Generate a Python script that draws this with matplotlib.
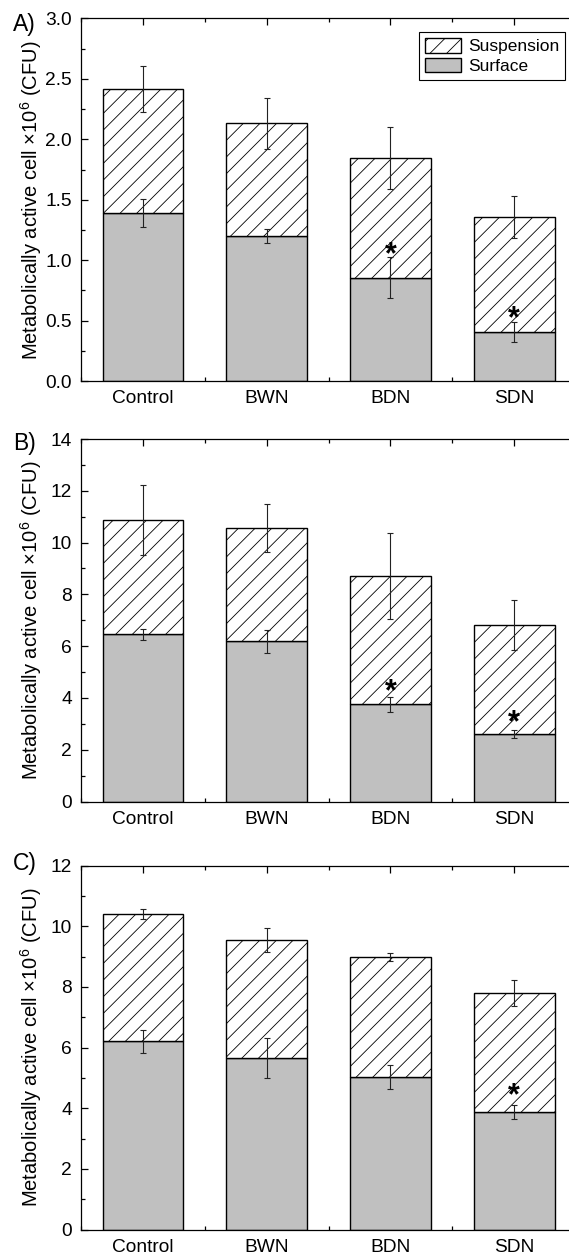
import matplotlib
matplotlib.use("Agg")
import matplotlib.pyplot as plt
from matplotlib.ticker import MultipleLocator, FixedLocator
from matplotlib.patches import Patch

plt.rcParams['font.family'] = ['Liberation Sans', 'DejaVu Sans']
plt.rcParams['mathtext.fontset'] = 'custom'
plt.rcParams['mathtext.rm'] = 'Liberation Sans'
plt.rcParams['mathtext.it'] = 'Liberation Sans:italic'
plt.rcParams['hatch.linewidth'] = 0.6

categories = ['Control', 'BWN', 'BDN', 'SDN']

# Panel A
A_surface = [1.39, 1.20, 0.856, 0.407]
A_suspension = [1.027, 0.933, 0.988, 0.950]
A_surface_err = [0.113, 0.057, 0.167, 0.081]
A_suspension_err = [0.19, 0.213, 0.255, 0.174]
A_star_idx = [2, 3]
A_star_y = [1.115, 0.586]

# Panel B
B_surface = [6.45, 6.19, 3.75, 2.61]
B_suspension = [4.42, 4.37, 4.96, 4.21]
B_surface_err = [0.22, 0.44, 0.29, 0.17]
B_suspension_err = [1.35, 0.93, 1.65, 0.97]
B_star_idx = [2, 3]
B_star_y = [4.6, 3.4]

# Panel C
C_surface = [6.20, 5.64, 5.03, 3.86]
C_suspension = [4.20, 3.91, 3.96, 3.95]
C_surface_err = [0.39, 0.66, 0.40, 0.23]
C_suspension_err = [0.165, 0.40, 0.14, 0.43]
C_star_idx = [3]
C_star_y = [4.70]

W, H = 569, 1256
fig = plt.figure(figsize=(W / 100, H / 100), dpi=100)

def rect(top, bottom, left=81, right=567.5):
    return [left / W, 1 - bottom / H, (right - left) / W, (bottom - top) / H]

panels = [
    dict(rect=rect(18.5, 381), surf=A_surface, susp=A_suspension, se=A_surface_err,
         pe=A_suspension_err, si=A_star_idx, sy=A_star_y, ylim=(0, 3.0), major=0.5, minor=0.25,
         fmt='{:.1f}', letter='A)', lbase=30.7, legend=True),
    dict(rect=rect(439, 801.5), surf=B_surface, susp=B_suspension, se=B_surface_err,
         pe=B_suspension_err, si=B_star_idx, sy=B_star_y, ylim=(0, 14), major=2, minor=1,
         fmt='{:.0f}', letter='B)', lbase=449.7, legend=False),
    dict(rect=rect(865.5, 1229.5), surf=C_surface, susp=C_suspension, se=C_surface_err,
         pe=C_suspension_err, si=C_star_idx, sy=C_star_y, ylim=(0, 12), major=2, minor=1,
         fmt='{:.0f}', letter='C)', lbase=869.7, legend=False),
]

gray = '#C0C0C0'
bw = 0.65
tick_fs = 13.8

for p in panels:
    ax = fig.add_axes(p['rect'])
    x = list(range(len(categories)))
    totals = [a + b for a, b in zip(p['surf'], p['susp'])]
    ax.bar(x, p['surf'], width=bw, color=gray, edgecolor='black', linewidth=1.0, zorder=2)
    ax.bar(x, p['susp'], bottom=p['surf'], width=bw, color='white', edgecolor='black',
           hatch='//', linewidth=1.0, zorder=2)
    ax.errorbar(x, p['surf'], yerr=p['se'], fmt='none', ecolor='#222222', elinewidth=0.8,
                capsize=2.3, capthick=0.8, zorder=3)
    ax.errorbar(x, totals, yerr=p['pe'], fmt='none', ecolor='#222222', elinewidth=0.8,
                capsize=2.3, capthick=0.8, zorder=3)
    for i, yv in zip(p['si'], p['sy']):
        ax.annotate('*', xy=(i, yv), xytext=(0, -12.5), textcoords='offset points',
                    ha='center', va='baseline', fontsize=22, fontweight='bold', zorder=4)

    ax.set_xlim(-0.5, 3.43)
    ax.set_ylim(*p['ylim'])
    ax.xaxis.set_major_locator(FixedLocator(x))
    ax.set_xticklabels(categories)
    ax.xaxis.set_minor_locator(MultipleLocator(0.5))
    ax.yaxis.set_major_locator(MultipleLocator(p['major']))
    ax.yaxis.set_minor_locator(MultipleLocator(p['minor']))
    ticks = ax.get_yticks()
    ax.set_yticks(ticks)
    ax.set_yticklabels([p['fmt'].format(t) for t in ticks])
    ax.set_ylim(*p['ylim'])

    ax.tick_params(which='both', direction='in', top=True, right=False, labelsize=tick_fs)
    ax.tick_params(which='major', length=5, width=0.9, pad=6.5)
    ax.tick_params(which='minor', length=2.6, width=0.9)
    for s in ['left', 'bottom', 'top']:
        ax.spines[s].set_linewidth(0.9)
    ax.spines['right'].set_visible(False)

    ax.set_ylabel('Metabolically active cell ×10$^{6}$ (CFU)', fontsize=14.5)
    ax.yaxis.set_label_coords(-0.076, 0.5)

    fig.text(13 / W, 1 - p['lbase'] / H, p['letter'], fontsize=16.5, ha='left', va='baseline')

    if p['legend']:
        handles = [Patch(facecolor='white', edgecolor='black', hatch='//', linewidth=1.0),
                   Patch(facecolor=gray, edgecolor='black', linewidth=1.0)]
        leg = ax.legend(handles, ['Suspension', 'Surface'], loc='upper right',
                        bbox_to_anchor=(0.995, 0.963), borderaxespad=0, fontsize=12.5,
                        frameon=True, fancybox=False, handlelength=2.05, handleheight=0.92,
                        handletextpad=0.4, labelspacing=0.2, borderpad=0.35)
        leg.get_frame().set_edgecolor('black')
        leg.get_frame().set_linewidth(0.8)
        leg.get_frame().set_alpha(1)

fig.savefig('out.png', dpi=100)
